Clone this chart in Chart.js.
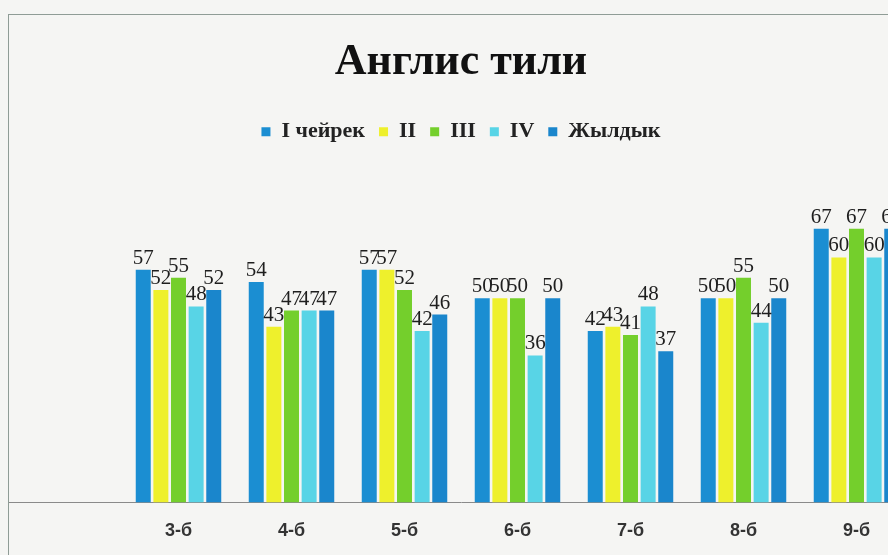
<!DOCTYPE html>
<html>
<head>
<meta charset="utf-8">
<script src="https://cdn.jsdelivr.net/npm/chart.js@4/dist/chart.umd.min.js"></script>
<style>
  html, body { margin:0; padding:0; background:#f5f5f3; overflow:hidden; width:888px; height:555px; }
  #frame { position:absolute; left:8px; top:14px; width:904px; height:545px;
           border-left:1px solid #8f9c96; border-top:1px solid #8f9c96; }
  #frame canvas { display:block; }
</style>
</head>
<body>
<div id="frame"><canvas id="chart"></canvas></div>
<script>
// Data (first slot is an empty category, chart is cut off after 9-б)
const categories = ['', '3-б', '4-б', '5-б', '6-б', '7-б', '8-б', '9-б']
const seriesNames = ['I чейрек', 'II', 'III', 'IV', 'Жылдык']
const q1     = [null, 57, 54, 57, 50, 42, 50, 67]
const q2     = [null, 52, 43, 57, 50, 43, 50, 60]
const q3     = [null, 55, 47, 52, 50, 41, 55, 67]
const q4     = [null, 48, 47, 42, 36, 48, 44, 60]
const yearly = [null, 52, 47, 46, 50, 37, 50, 67]
const colors = ['#1b8ed2', '#eef02c', '#74cf2c', '#58d4e6', '#1a86cc']

const serif = "'Liberation Serif', 'DejaVu Serif', serif"
const sans = "'Liberation Sans', Arial, sans-serif"

// value labels above each bar
const barLabels = {
  id: 'barLabels',
  afterDatasetsDraw(chart){
    const ctx = chart.ctx
    ctx.save()
    ctx.font = `21px ${serif}`
    ctx.fillStyle = '#1e1e1e'
    ctx.textAlign = 'center'
    ctx.textBaseline = 'bottom'
    chart.data.datasets.forEach((ds, i) => {
      chart.getDatasetMeta(i).data.forEach((bar, j) => {
        const v = ds.data[j]
        if (v == null) return
        ctx.fillText(String(v), bar.x, bar.y - 1)
      })
    })
    ctx.restore()
  }
}

// extra room under the legend
const legendGap = {
  id: 'legendGap',
  beforeInit(chart){
    const fit = chart.legend.fit
    chart.legend.fit = function(){ fit.bind(this)(); this.height += 23 }
  }
}

const data = [q1, q2, q3, q4, yearly]
new Chart(document.getElementById('chart'), {
  type: 'bar',
  data: {
    labels: categories,
    datasets: data.map((d, i) => ({
      label: seriesNames[i], data: d, backgroundColor: colors[i],
      categoryPercentage: 0.78, barPercentage: 0.85
    }))
  },
  options: {
    responsive: true, maintainAspectRatio: false, animation: false,
    layout: { padding: { left: 0, right: 0, top: 0, bottom: 0 } },
    plugins: {
      title: { display: true, text: 'Англис тили', color: '#111',
               font: { family: serif, size: 44, weight: 'bold' },
               padding: { top: 21, bottom: 18 } },
      legend: { position: 'top',
                labels: { color: '#222', font: { family: serif, size: 22, weight: 'bold' },
                          boxWidth: 9, boxHeight: 9, padding: 14 } },
      tooltip: { enabled: false }
    },
    scales: {
      x: { grid: { display: false, drawTicks: false },
           border: { display: true, color: '#8a8a8a', width: 1 },
           ticks: { color: '#333', font: { family: sans, size: 18, weight: 'bold' }, padding: 18 } },
      y: { display: false, min: 0, max: 80 }
    }
  },
  plugins: [barLabels, legendGap]
})
</script>
</body>
</html>
